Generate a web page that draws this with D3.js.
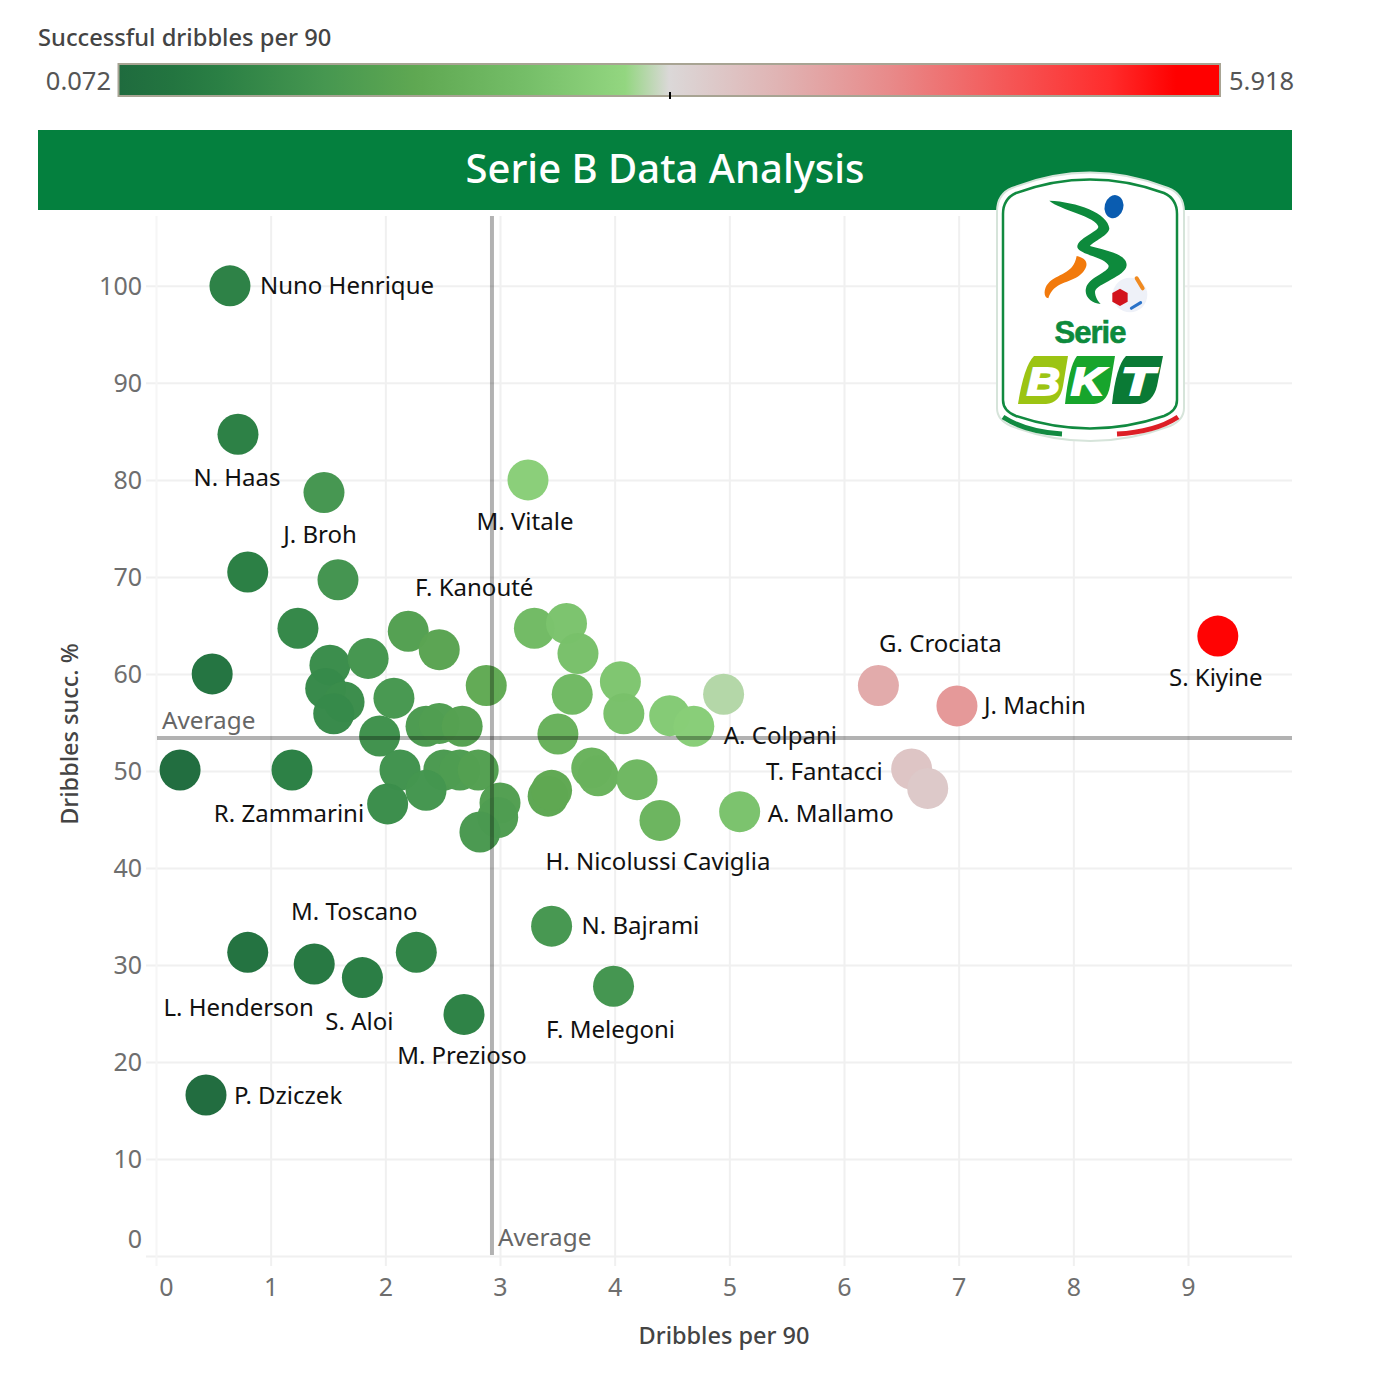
<!DOCTYPE html>
<html><head><meta charset="utf-8">
<script src="https://cdn.jsdelivr.net/npm/d3@7"></script>
<style>
html,body{margin:0;padding:0;background:#fff;overflow:hidden}
svg{display:block}
text{font-family:"Noto Sans",sans-serif}
</style></head><body><div id="chart"></div>
<script>
const dribblesPer90 = [0.645,0.715,1.465,3.244,0.80,1.587,1.238,2.2,2.47,3.3,3.58,3.68,0.49,1.517,1.85,1.48,1.64,1.55,2.075,2.88,4.05,3.63,4.08,4.48,4.69,4.95,6.3,6.985,9.26,1.95,2.355,2.47,2.67,3.505,0.21,1.186,2.128,2.51,2.65,2.81,3.8,3.855,4.195,2.355,2.02,3.0,2.98,2.825,3.42,3.45,4.395,5.09,6.59,6.73,3.45,0.80,1.38,1.80,2.27,3.99,2.686,0.436];
const successPct = [100,84.7,78.7,80,70.5,69.7,64.7,64.4,62.5,64.7,65.2,62.1,60,60.9,61.6,58.5,57.1,55.9,57.5,58.8,59.2,57.9,55.9,55.7,54.6,57.9,58.8,56.7,63.9,53.6,54.6,54.9,54.6,53.8,50.1,50.1,50.1,50.1,50.1,50.1,50.3,49.5,49.1,48,46.6,46.7,45.2,43.7,47.4,48,44.9,45.8,50.2,48.2,34,31.3,30.1,28.7,31.3,27.8,24.9,16.6];
const successfulPer90 = [0.645,0.606,1.153,2.595,0.564,1.106,0.801,1.417,1.544,2.135,2.334,2.285,0.294,0.924,1.14,0.866,0.936,0.866,1.193,1.693,2.398,2.102,2.281,2.495,2.561,2.866,3.704,3.96,5.918,1.045,1.286,1.356,1.458,1.886,0.105,0.594,1.066,1.258,1.328,1.408,1.911,1.908,2.06,1.13,0.941,1.401,1.347,1.235,1.621,1.656,1.973,2.331,3.308,3.244,1.173,0.25,0.415,0.517,0.71,1.109,0.669,0.072];
const labelNames = ["Nuno Henrique","N. Haas","J. Broh","M. Vitale","F. Kanouté","G. Crociata","J. Machin","S. Kiyine","A. Colpani","T. Fantacci","A. Mallamo","R. Zammarini","H. Nicolussi Caviglia","M. Toscano","N. Bajrami","L. Henderson","S. Aloi","F. Melegoni","M. Prezioso","P. Dziczek"];
const labelPoints = [0,1,2,3,8,26,27,28,24,52,51,35,50,58,54,55,57,59,60,61];
const xTicks = [0,1,2,3,4,5,6,7,8,9];
const yTicks = [0,10,20,30,40,50,60,70,80,90,100];
const averageDribbles = 2.93;
const averageSuccess = 53.4;
const colorMin = 0.072, colorMax = 5.918;
const colorStops = [0,0.05,0.09,0.187,0.27,0.37,0.46,0.5,0.6,0.7,0.8,0.9,0.96,1];
const colorValues = ["#1f6b3e","#237540","#2a7f44","#469750","#5fa852","#75be68","#93d680","#dbd8d8","#e0b3b3","#e88a8a","#f45a5a","#ff2c2c","#ff0000","#ff0000"];

const labelOffsets = [[30,0,"start"],[-1,44,"middle"],[-4,43,"middle"],[-3,42,"middle"],[35,-62,"middle"],[62,-42,"middle"],[27,0,"start"],[-2,42,"middle"],[30,10,"start"],[-29,3,"end"],[28,2,"start"],[-3,44,"middle"],[-2,42,"middle"],[-62,-40,"middle"],[30,0,"start"],[-9,56,"middle"],[-3,44,"middle"],[-3,44,"middle"],[-2,42,"middle"],[28,1,"start"]];

const W=1374,H=1382;
const svg=d3.select("#chart").append("svg").attr("width",W).attr("height",H);
const x=d3.scaleLinear().domain([0,9.9]).range([156,1291.2]);
const y=d3.scaleLinear().domain([0,107.2]).range([1256,216]);
const tParam=d3.scaleLinear().domain([colorMin,colorMax]).range([0,1]);
const ramp=d3.scaleLinear().domain(colorStops).range(colorValues).interpolate(d3.interpolateRgb);
const color=v=>ramp(tParam(v));

// legend
svg.append("text").attr("x",38).attr("y",46).attr("font-size",23.7).attr("font-weight",500).attr("fill","#444").text("Successful dribbles per 90");
const defs=svg.append("defs");
const lg=defs.append("linearGradient").attr("id","lg");
lg.selectAll("stop").data(colorStops).join("stop").attr("offset",d=>d).attr("stop-color",(d,i)=>colorValues[i]);
svg.append("rect").attr("x",118.5).attr("y",64).attr("width",1101.5).attr("height",32).attr("fill","url(#lg)").attr("stroke","#a8a493").attr("stroke-width",2);
svg.append("line").attr("x1",670).attr("x2",670).attr("y1",92).attr("y2",99).attr("stroke","#000").attr("stroke-width",2);
svg.append("text").attr("x",111).attr("y",90).attr("text-anchor","end").attr("font-size",25.5).attr("fill","#555").text(d3.format(".3f")(colorMin));
svg.append("text").attr("x",1229).attr("y",90).attr("font-size",25.5).attr("fill","#555").text(d3.format(".3f")(colorMax));

// banner
svg.append("rect").attr("x",38).attr("y",130).attr("width",1254).attr("height",80).attr("fill","#04803e");
svg.append("text").attr("x",665).attr("y",183).attr("text-anchor","middle").attr("font-size",40).attr("font-weight",500).attr("fill","#fff").text("Serie B Data Analysis");

// axes + grid
const gy=svg.append("g").attr("transform","translate(146,0)").call(d3.axisLeft(y).tickValues(yTicks).tickSize(-1146).tickPadding(4));
const gx=svg.append("g").attr("transform","translate(0,1266)").call(d3.axisBottom(x).tickValues(xTicks).tickSize(-1050).tickPadding(12));
[gx,gy].forEach(g=>{g.select(".domain").remove();
 g.selectAll("line").attr("stroke","#f0f0f0").attr("stroke-width",2);
 g.selectAll("text").attr("font-size",25).attr("fill","#6e6e6e").attr("font-family",'"Noto Sans",sans-serif');});
gy.selectAll("text").attr("dy","0.34em");
gy.selectAll(".tick").filter(d=>d===0).select("text").attr("transform","translate(0,-17)");
gx.selectAll(".tick").filter(d=>d===0).select("text").attr("transform","translate(10,0)");
gx.selectAll(".tick").filter(d=>d===0).select("line").attr("stroke","#f6f6f6");

svg.append("text").attr("x",724).attr("y",1344).attr("text-anchor","middle").attr("font-size",23.5).attr("font-weight",500).attr("fill","#444").text("Dribbles per 90");
svg.append("text").attr("transform","translate(78,734) rotate(-90)").attr("text-anchor","middle").attr("font-size",23.5).attr("font-weight",500).attr("fill","#444").text("Dribbles succ. %");

// points
const pts=dribblesPer90.map((d,i)=>({x:d,y:successPct[i],c:successfulPer90[i]}));
svg.append("g").selectAll("circle").data(pts).join("circle")
 .attr("cx",d=>x(d.x)).attr("cy",d=>y(d.y)).attr("r",20.5)
 .attr("fill",d=>color(d.c)).attr("fill-opacity",0.99);

// reference lines
svg.append("line").attr("x1",x(averageDribbles)).attr("x2",x(averageDribbles)).attr("y1",216).attr("y2",1255).attr("stroke","#000").attr("stroke-opacity",0.3).attr("stroke-width",4);
svg.append("line").attr("x1",157).attr("x2",1292).attr("y1",y(averageSuccess)).attr("y2",y(averageSuccess)).attr("stroke","#000").attr("stroke-opacity",0.3).attr("stroke-width",4);
svg.append("text").attr("x",162).attr("y",729).attr("font-size",24.3).attr("fill","#666").text("Average");
svg.append("text").attr("x",498).attr("y",1246).attr("font-size",24.3).attr("fill","#666").text("Average");

// labels
svg.append("g").selectAll("text").data(labelNames).join("text")
 .attr("x",(d,i)=>x(pts[labelPoints[i]].x)+labelOffsets[i][0])
 .attr("y",(d,i)=>y(pts[labelPoints[i]].y)+labelOffsets[i][1]+8)
 .attr("text-anchor",(d,i)=>labelOffsets[i][2])
 .attr("font-size",24).attr("fill","#111").text(d=>d);

// logo
const logo=svg.append("g");
logo.append("path").attr("d","M997,212 Q997,194 1012,188 Q1090,157 1168,188 Q1184,194 1184,212 L1184,408 Q1184,420 1170,426 Q1090,456 1011,426 Q997,420 997,408 Z").attr("fill","#fff").attr("stroke","#d6e4da").attr("stroke-width",2);
logo.append("path").attr("d","M1003,214 Q1003,199 1016,193 Q1090,166 1164,193 Q1177,199 1177,214 L1177,400 Q1177,411 1164,416 Q1090,441 1016,416 Q1003,411 1003,400 Z").attr("fill","none").attr("stroke","#118a40").attr("stroke-width",2.5);
logo.append("path").attr("d","M1003,417 Q1026,432 1062,434").attr("fill","none").attr("stroke","#118a40").attr("stroke-width",5);
logo.append("path").attr("d","M1117,434 Q1155,432 1178,417").attr("fill","none").attr("stroke","#dd1f26").attr("stroke-width",5);
const fig=logo.append("g").attr("transform","translate(980,160) scale(0.3333)");
fig.append("path").attr("d","M208,122 C290,125 385,160 388,205 C388,225 340,245 330,258 C370,270 440,280 440,315 C438,350 350,370 345,395 C345,410 355,425 362,432 C335,430 312,410 318,385 C325,350 395,335 385,315 C370,290 300,285 292,262 C290,235 355,215 355,200 C350,170 240,150 208,122 Z").attr("fill","#0d8a3c");
fig.append("ellipse").attr("cx",402).attr("cy",140).attr("rx",28).attr("ry",35).attr("transform","rotate(15 402 140)").attr("fill","#0a5cb0");
fig.append("path").attr("d","M290,288 C325,295 330,320 300,345 C270,370 220,365 205,415 C190,415 190,385 205,370 C230,340 280,345 290,288 Z").attr("fill","#f27a0c");
fig.append("circle").attr("cx",450).attr("cy",405).attr("r",52).attr("fill","#eef1f8");
fig.append("path").attr("d","M420,386 L443,399 L443,425 L420,438 L397,425 L397,399 Z").attr("fill","#d2141c");
fig.append("path").attr("d","M470,355 L488,385").attr("stroke","#f08a20").attr("stroke-width",12).attr("stroke-linecap","round");
fig.append("path").attr("d","M454,445 L482,428").attr("stroke","#2a72c8").attr("stroke-width",9).attr("stroke-linecap","round");
logo.append("text").attr("x",1090).attr("y",343).attr("text-anchor","middle").attr("font-size",31).attr("font-weight",700).attr("fill","#0d8a3c").attr("stroke","#0d8a3c").attr("stroke-width",0.6).style("font-family",'"Liberation Sans",sans-serif').attr("letter-spacing","-1").text("Serie");
[["M1034,356 L1068,356 L1063,386 Q1060,403 1046,404 L1018,404 Q1024,366 1034,356 Z","#9cc413","B",1027],
 ["M1077,356 L1115,356 L1110,386 Q1107,403 1094,404 L1065,404 Q1069,366 1077,356 Z","#17a52c","K",1071],
 ["M1126,356 L1163,356 L1157,386 Q1153,402 1140,404 L1112,404 Q1116,366 1126,356 Z","#0a7a35","T",1121]].forEach(r=>{
 logo.append("path").attr("d",r[0]).attr("fill",r[1]);
 logo.append("text").attr("x",r[3]).attr("y",395).attr("textLength",33).attr("lengthAdjust","spacingAndGlyphs").attr("font-size",39).attr("font-weight",700).attr("font-style","italic").attr("fill","#fff").attr("stroke","#fff").attr("stroke-width",2).style("font-family",'"Liberation Sans",sans-serif').text(r[2]);
});
</script></body></html>
